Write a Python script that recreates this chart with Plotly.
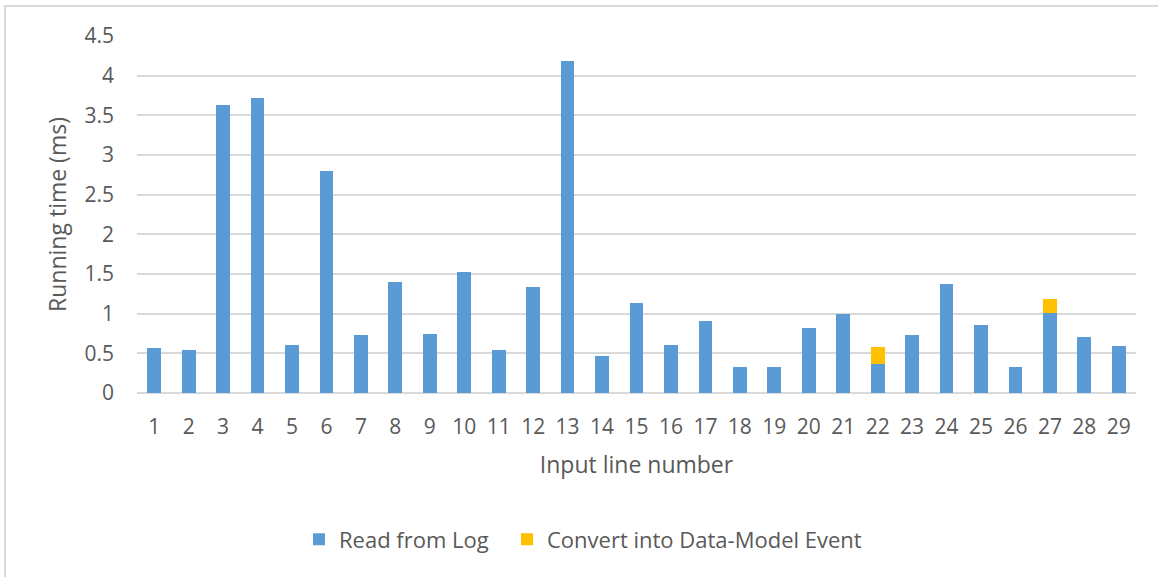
import plotly.graph_objects as go

categories = [str(i) for i in range(1, 30)]
read_from_log = [0.57, 0.54, 3.63, 3.72, 0.61, 2.80, 0.73, 1.40, 0.75, 1.52,
                 0.54, 1.33, 4.18, 0.47, 1.13, 0.61, 0.91, 0.33, 0.33, 0.82,
                 1.00, 0.37, 0.73, 1.38, 0.86, 0.33, 1.01, 0.70, 0.59]
convert_event = [0, 0, 0, 0, 0, 0, 0, 0, 0, 0,
                 0, 0, 0, 0, 0, 0, 0, 0, 0, 0,
                 0, 0.21, 0, 0, 0, 0, 0.18, 0, 0]
y_ticks = [0, 0.5, 1, 1.5, 2, 2.5, 3, 3.5, 4, 4.5]
y_tick_text = ["0", "0.5", "1", "1.5", "2", "2.5", "3", "3.5", "4", "4.5"]

FONT = "Open Sans"
TXT = "#595959"
GRID = "#D9D9D9"

fig = go.Figure()
fig.add_trace(go.Bar(x=categories, y=read_from_log, name="Read from Log",
                     marker=dict(color="#5B9BD5", line=dict(width=0)), legend="legend"))
fig.add_trace(go.Bar(x=categories, y=convert_event, name="Convert into Data-Model Event",
                     marker=dict(color="#FFC000", line=dict(width=0)), legend="legend2"))

W, H = 1158, 577
L, R, T, B = 137, 22, 36, 184
pw = W - L - R
ph = H - T - B

leg_common = dict(orientation="h", xref="container", xanchor="left",
                  yref="container", y=0.065, yanchor="middle",
                  font=dict(family=FONT, size=22, color=TXT),
                  itemwidth=30, bgcolor="rgba(0,0,0,0)")

fig.update_layout(
    width=W, height=H,
    margin=dict(l=L, r=R, t=T, b=B, pad=0),
    barmode="stack", bargap=0.6,
    plot_bgcolor="white", paper_bgcolor="white",
    font=dict(family=FONT, color=TXT, size=21),
    showlegend=True,
    legend=dict(x=(339 - 40) / W, **leg_common),
    legend2=dict(x=(547 - 40) / W, **leg_common),
    xaxis=dict(type="category", showgrid=False, zeroline=False, showline=False,
               ticks="", tickfont=dict(family=FONT, size=21, color=TXT),
               ticklabelstandoff=19,
               title=dict(text="Input line number", font=dict(family=FONT, size=23, color=TXT),
                          standoff=17)),
    yaxis=dict(range=[0, 4.5], tickvals=y_ticks, ticktext=y_tick_text,
               showgrid=True, gridcolor=GRID, gridwidth=2,
               zeroline=True, zerolinecolor=GRID, zerolinewidth=2,
               showline=False, ticks="", ticklabelstandoff=22,
               tickfont=dict(family=FONT, size=21, color=TXT),
               title=dict(text="Running time (ms)", font=dict(family=FONT, size=23, color=TXT),
                          standoff=11)),
    shapes=[dict(type="rect", xref="paper", yref="paper",
                 x0=(5 - L) / pw, x1=2.0, y0=-2.0, y1=(H - B - 6) / ph,
                 line=dict(color=GRID, width=2), fillcolor="rgba(0,0,0,0)", layer="below")],
)

fig.write_html("out.html")
